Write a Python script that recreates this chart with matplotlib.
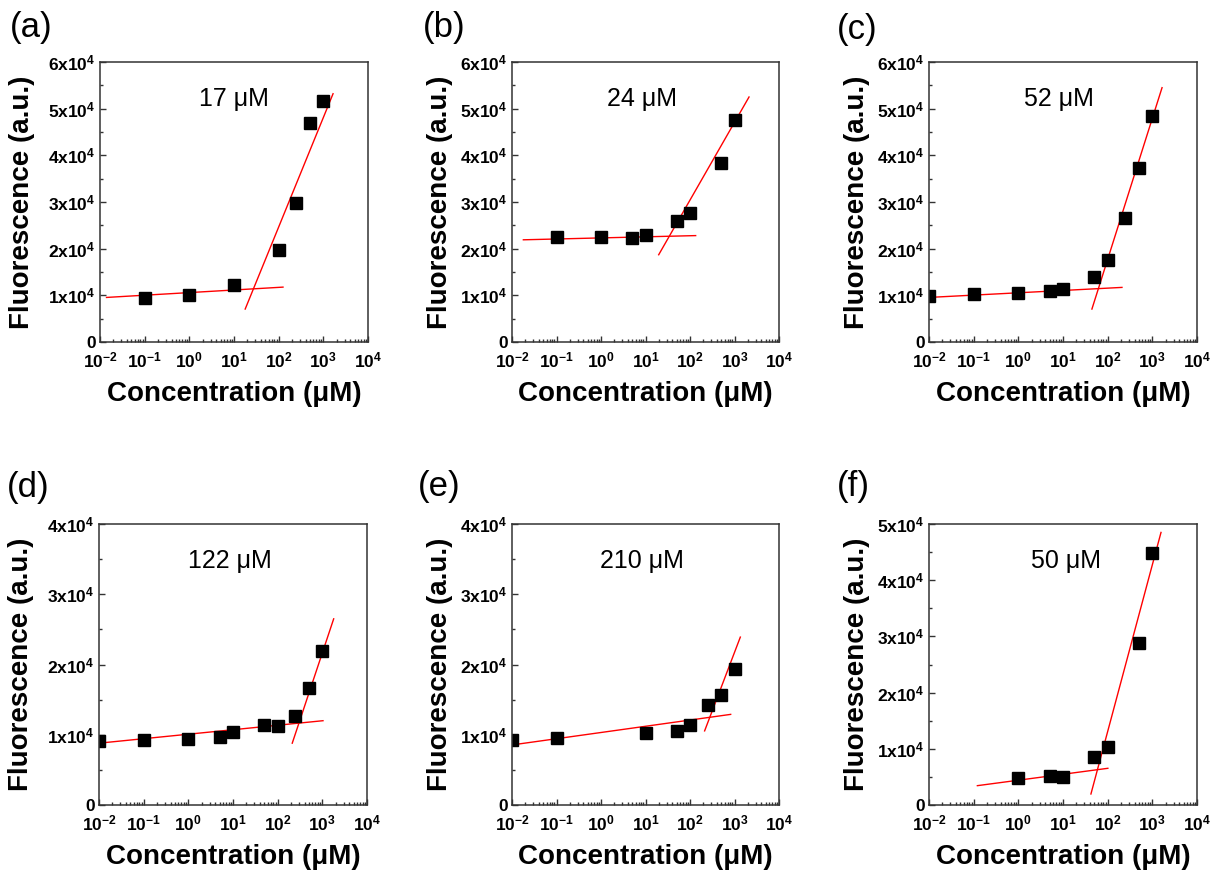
import matplotlib
matplotlib.use('Agg')
import matplotlib.pyplot as plt
import numpy as np
from matplotlib.ticker import FuncFormatter, MultipleLocator, LogLocator, NullFormatter

plt.rcParams['font.family'] = ['Liberation Sans', 'DejaVu Sans']
plt.rcParams['axes.unicode_minus'] = False

# data: concentration (uM) vs fluorescence (a.u.)
conc_a = [0.1, 1, 10, 100, 250, 500, 1000]
fluo_a = [9400, 10100, 12300, 19700, 29700, 47000, 51600]
conc_b = [0.1, 1, 5, 10, 50, 100, 500, 1000]
fluo_b = [22400, 22600, 22200, 23000, 26000, 27700, 38300, 47500]
conc_c = [0.01, 0.1, 1, 5, 10, 50, 100, 250, 500, 1000]
fluo_c = [9800, 10300, 10500, 11000, 11300, 13900, 17600, 26500, 37200, 48400]
conc_d = [0.01, 0.1, 1, 5, 10, 50, 100, 250, 500, 1000]
fluo_d = [9100, 9300, 9400, 9700, 10450, 11400, 11300, 12700, 16600, 21900]
conc_e = [0.01, 0.1, 10, 50, 100, 250, 500, 1000]
fluo_e = [9300, 9600, 10200, 10600, 11400, 14200, 15600, 19400]
conc_f = [1, 5, 10, 50, 100, 500, 1000]
fluo_f = [4870, 5170, 5050, 8600, 10400, 28800, 44800]

# linear fits (in log x) - end points of the two red lines per panel
low_x_a, low_y_a = [0.014, 125], [9550, 11760]
high_x_a, high_y_a = [17.8, 1650], [7060, 53200]
low_x_b, low_y_b = [0.018, 134], [21900, 22800]
high_x_b, high_y_b = [19.8, 2120], [18700, 52500]
low_x_c, low_y_c = [0.01, 209], [9550, 11700]
high_x_c, high_y_c = [44.4, 1650], [7060, 54500]
low_x_d, low_y_d = [0.01, 1035], [8800, 12000]
high_x_d, high_y_d = [212, 1795], [8800, 26500]
low_x_e, low_y_e = [0.01, 820], [8550, 12900]
high_x_e, high_y_e = [213, 1352], [10550, 23900]
low_x_f, low_y_f = [0.121, 101], [3440, 6530]
high_x_f, high_y_f = [42.2, 1564], [1960, 48500]

tags = ['(a)', '(b)', '(c)', '(d)', '(e)', '(f)']
kd_labels = ['17 \u03bcM', '24 \u03bcM', '52 \u03bcM', '122 \u03bcM', '210 \u03bcM', '50 \u03bcM']
ymaxes = [6e4, 6e4, 6e4, 4e4, 4e4, 5e4]

panels = [
    (conc_a, fluo_a, low_x_a, low_y_a, high_x_a, high_y_a),
    (conc_b, fluo_b, low_x_b, low_y_b, high_x_b, high_y_b),
    (conc_c, fluo_c, low_x_c, low_y_c, high_x_c, high_y_c),
    (conc_d, fluo_d, low_x_d, low_y_d, high_x_d, high_y_d),
    (conc_e, fluo_e, low_x_e, low_y_e, high_x_e, high_y_e),
    (conc_f, fluo_f, low_x_f, low_y_f, high_x_f, high_y_f),
]

W, H = 1217, 872
# axes boxes in pixels: left, top, right, bottom
boxes = [(100, 62, 368, 342), (512, 62, 779, 342), (929, 62, 1197, 342),
         (99, 524, 367, 805), (512, 524, 779, 805), (929, 524, 1197, 805)]
tag_pos = [(10, 11), (423, 11), (837, 13), (7, 471), (418, 470), (837, 470)]
kd_x = [0.50, 0.487, 0.485, 0.49, 0.487, 0.51]
ylab_x = [-0.243, -0.222, -0.222, -0.243, -0.222, -0.222]


def yfmt(v, pos):
    if abs(v) < 1:
        return '0'
    return r'$\mathdefault{%dx10^{4}}$' % round(v / 1e4)


fig = plt.figure(figsize=(W / 100, H / 100), dpi=100)

for i, (cx, fy, lx, ly, hx, hy) in enumerate(panels):
    l, t, r, b = boxes[i]
    ax = fig.add_axes([l / W, 1 - b / H, (r - l) / W, (b - t) / H])
    ax.plot(lx, ly, color='red', lw=1)
    ax.plot(hx, hy, color='red', lw=1)
    ax.plot(cx, fy, 's', color='black', markersize=8.5)
    ax.set_xscale('log')
    ax.set_xlim(1e-2, 1e4)
    ax.set_ylim(0, ymaxes[i])
    ax.set_xticks(10.0 ** np.arange(-2, 5))
    ax.xaxis.set_minor_locator(LogLocator(base=10, subs=np.arange(2, 10), numticks=20))
    ax.xaxis.set_minor_formatter(NullFormatter())
    ax.set_yticks(np.arange(0, ymaxes[i] + 1, 1e4))
    ax.yaxis.set_minor_locator(MultipleLocator(5000))
    ax.yaxis.set_major_formatter(FuncFormatter(yfmt))
    ax.tick_params(which='both', direction='in', top=False, right=False,
                   width=1, color='#333333')
    ax.tick_params(which='major', length=4, labelsize=12.5)
    ax.tick_params(which='minor', length=2.5)
    ax.tick_params(axis='x', which='major', pad=6)
    ax.tick_params(axis='y', which='major', pad=3)
    for lab in ax.get_xticklabels() + ax.get_yticklabels():
        lab.set_fontweight('bold')
    for sp in ax.spines.values():
        sp.set_linewidth(1.1)
        sp.set_color('#333333')
    ax.set_xlabel('Concentration (\u03bcM)', fontsize=20, fontweight='bold')
    ax.set_ylabel('Fluorescence (a.u.)', fontsize=20, fontweight='bold')
    ax.xaxis.set_label_coords(0.5, -0.14)
    ax.yaxis.set_label_coords(ylab_x[i], 0.5)
    ax.text(kd_x[i], 0.868, kd_labels[i], transform=ax.transAxes,
            ha='center', va='center', fontsize=18)
    tx, ty = tag_pos[i]
    fig.text(tx / W, 1 - ty / H, tags[i], ha='left', va='top', fontsize=25)

fig.savefig('out.png', dpi=100)
